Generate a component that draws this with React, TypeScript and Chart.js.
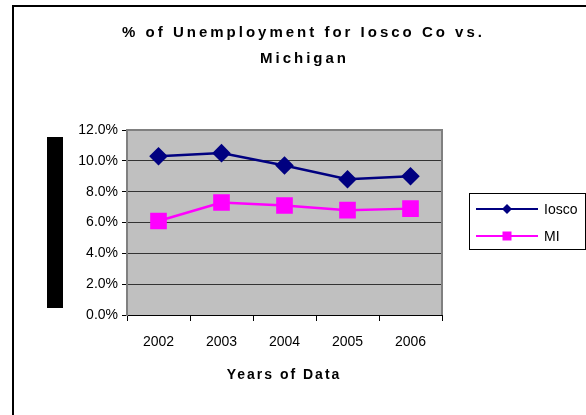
import React, { useEffect, useRef } from "react";
import { Chart, registerables } from "chart.js";

Chart.register(...registerables);

const years = ["2002", "2003", "2004", "2005", "2006"];
const ioscoValues = [10.3, 10.5, 9.7, 8.8, 9.0];
const miValues = [6.1, 7.3, 7.1, 6.8, 6.9];
const titleLines = ["% of Unemployment for Iosco Co vs.", "Michigan"];
const xTitle = "Years of Data";
const seriesNames = ["Iosco", "MI"];

const FONT = "Arial, 'Liberation Sans', sans-serif";

function spacedCenter(ctx: any, text: string, cx: number, y: number, spacing: number) {
  ctx.letterSpacing = spacing + "px";
  const w = ctx.measureText(text).width - spacing;
  ctx.textAlign = "left";
  ctx.fillText(text, cx - w / 2, y);
  ctx.letterSpacing = "0px";
}

const decorPlugin = {
  id: "decor",
  beforeDraw(chart: any) {
    const { ctx, chartArea } = chart;
    ctx.save();
    ctx.fillStyle = "#ffffff";
    ctx.fillRect(0, 0, chart.width, chart.height);
    // outer frame
    ctx.strokeStyle = "#000000";
    ctx.lineWidth = 2;
    ctx.strokeRect(13, 6, 700, 600);
    // plot background
    ctx.fillStyle = "#C0C0C0";
    ctx.fillRect(chartArea.left, chartArea.top, chartArea.right - chartArea.left, chartArea.bottom - chartArea.top);
    // black block (y-axis title placeholder)
    ctx.fillStyle = "#000000";
    ctx.fillRect(47, 137, 16, 171);
    // title
    ctx.fillStyle = "#000000";
    ctx.textBaseline = "middle";
    ctx.font = "bold 15px " + FONT;
    spacedCenter(ctx, titleLines[0], 302, 33, 3);
    spacedCenter(ctx, titleLines[1], 303, 59, 3);
    ctx.font = "bold 14px " + FONT;
    spacedCenter(ctx, xTitle, 283, 375, 2);
    ctx.restore();
  },
  beforeDatasetsDraw(chart: any) {
    const { ctx, chartArea } = chart;
    ctx.save();
    ctx.strokeStyle = "#808080";
    ctx.lineWidth = 2;
    ctx.beginPath();
    ctx.moveTo(chartArea.left, chartArea.top);
    ctx.lineTo(chartArea.right, chartArea.top);
    ctx.lineTo(chartArea.right, chartArea.bottom);
    ctx.stroke();
    ctx.restore();
  },
  afterDraw(chart: any) {
    const { ctx } = chart;
    ctx.save();
    // legend
    const bx = 469, by = 193, bw = 116, bh = 56;
    ctx.fillStyle = "#ffffff";
    ctx.fillRect(bx, by, bw, bh);
    ctx.strokeStyle = "#000000";
    ctx.lineWidth = 1;
    ctx.strokeRect(bx + 0.5, by + 0.5, bw, bh);
    const rows = [209, 236];
    chart.data.datasets.forEach((ds: any, i: number) => {
      const y = rows[i];
      ctx.strokeStyle = ds.borderColor;
      ctx.lineWidth = 2;
      ctx.beginPath();
      ctx.moveTo(476, y);
      ctx.lineTo(538, y);
      ctx.stroke();
      ctx.fillStyle = ds.pointBackgroundColor;
      const cx = 507;
      if (ds.pointStyle === "rectRot") {
        const r = 5;
        ctx.beginPath();
        ctx.moveTo(cx, y - r);
        ctx.lineTo(cx + r, y);
        ctx.lineTo(cx, y + r);
        ctx.lineTo(cx - r, y);
        ctx.closePath();
        ctx.fill();
      } else {
        ctx.fillRect(cx - 4.5, y - 4.5, 9, 9);
      }
      ctx.fillStyle = "#000000";
      ctx.font = "14px " + FONT;
      ctx.textAlign = "left";
      ctx.textBaseline = "middle";
      ctx.fillText(ds.label, 544, y + 1);
    });
    ctx.restore();
  },
};

export default function App() {
  const ref = useRef<HTMLCanvasElement | null>(null);
  useEffect(() => {
    document.body.style.margin = "0";
    const canvas = ref.current;
    if (!canvas) return;
    const chart = new Chart(canvas, {
      type: "line",
      data: {
        labels: years,
        datasets: [
          {
            label: seriesNames[0],
            data: ioscoValues,
            borderColor: "#000080",
            backgroundColor: "#000080",
            pointBackgroundColor: "#000080",
            pointBorderColor: "#000080",
            pointStyle: "rectRot",
            pointRadius: 7.5,
            borderWidth: 2.5,
            tension: 0,
          },
          {
            label: seriesNames[1],
            data: miValues,
            borderColor: "#FF00FF",
            backgroundColor: "#FF00FF",
            pointBackgroundColor: "#FF00FF",
            pointBorderColor: "#FF00FF",
            pointStyle: "rect",
            pointRadius: 10,
            borderWidth: 2.5,
            tension: 0,
          },
        ],
      },
      options: {
        responsive: false,
        animation: false,
        layout: { padding: { left: 67, right: 144, top: 130, bottom: 60 } },
        plugins: {
          legend: { display: false },
          title: { display: false },
          tooltip: { enabled: false },
        },
        scales: {
          x: {
            offset: true,
            afterFit: (s: any) => { s.height = 40; },
            grid: {
              offset: true,
              drawOnChartArea: false,
              drawTicks: true,
              tickLength: 6,
              tickColor: "#000000",
            },
            border: { color: "#000000", width: 1 },
            ticks: {
              color: "#000000",
              padding: 13,
              font: { family: FONT, size: 14 },
            },
          },
          y: {
            min: 0,
            max: 12,
            afterFit: (s: any) => { s.width = 60; },
            grid: {
              color: "#333333",
              lineWidth: 1,
              drawTicks: true,
              tickLength: 5,
              tickColor: "#000000",
            },
            border: { color: "#808080", width: 2 },
            ticks: {
              stepSize: 2,
              color: "#000000",
              padding: 4,
              font: { family: FONT, size: 14 },
              callback: (v: any) => Number(v).toFixed(1) + "%",
            },
          },
        },
      },
      plugins: [decorPlugin],
    });
    return () => chart.destroy();
  }, []);
  return <canvas ref={ref} width={586} height={415} style={{ display: "block" }} />;
}
